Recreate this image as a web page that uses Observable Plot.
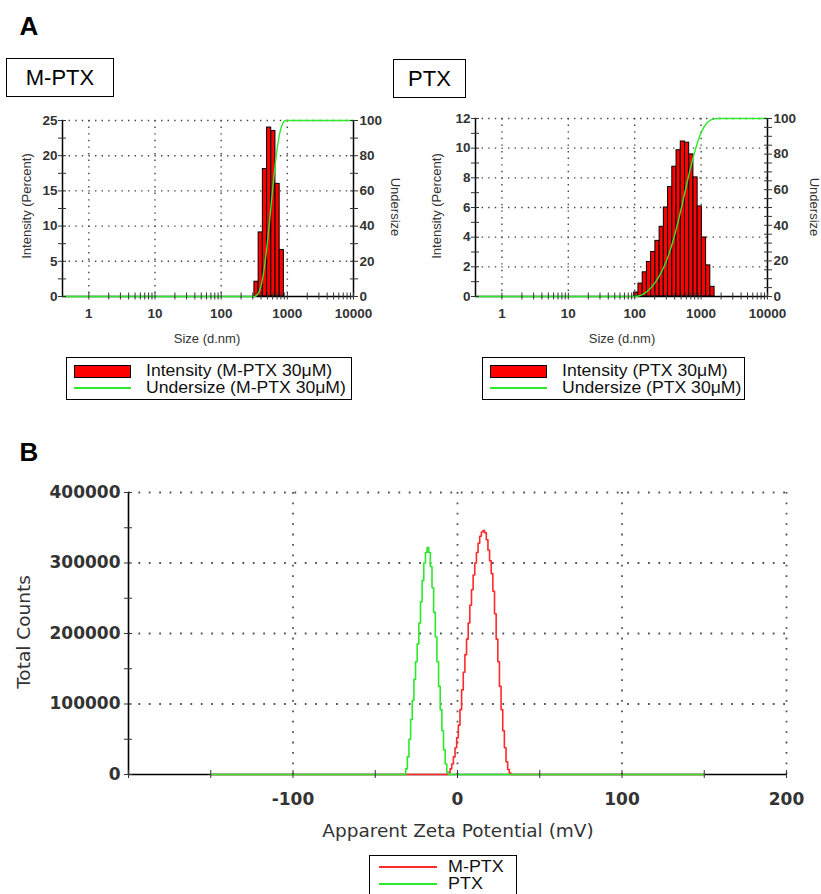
<!DOCTYPE html>
<html><head><meta charset="utf-8">
<script src="https://cdn.jsdelivr.net/npm/d3@7"></script>
<script src="https://cdn.jsdelivr.net/npm/@observablehq/plot@0.6"></script>
<style>
body{margin:0;background:#fff;}
#root{position:relative;width:821px;height:894px;overflow:hidden;font-family:"Liberation Sans",Arial,sans-serif;color:#333;background:#fff;}
.abs{position:absolute;white-space:nowrap;line-height:1;}
.box{position:absolute;border:1.5px solid #000;box-sizing:border-box;background:#fff;}
svg{overflow:visible;}
</style></head><body><div id="root"></div>
<script>
// ---------- DATA ----------
const binRatio = 1.1555; // size-bin ratio (log-spaced bins)
// A: M-PTX size distribution
const mptxSizes = [342.0, 396.1, 458.7, 531.2, 615.1, 712.4, 825.0];
const mptxIntensity = [2.1, 9.1, 18.1, 24.0, 23.5, 16.0, 6.6];
const mptxUnderSize = [0.4, 318, 368, 427, 495, 573, 664, 769, 891, 950, 10000];
const mptxUnderPct = [0, 0, 2.1, 11.2, 29.3, 53.3, 76.8, 92.8, 99.4, 100, 100];
// A: PTX size distribution
const ptxSizes = [105.7, 122.4, 141.8, 164.2, 190.1, 220.2, 255.0, 295.3, 342.0, 396.1, 458.7, 531.2, 615.1, 712.4, 825.0, 955.4, 1106, 1281, 1484];
const ptxIntensity = [0.27, 0.87, 1.63, 2.33, 3.0, 3.75, 4.7, 6.0, 7.38, 8.75, 9.86, 10.45, 10.37, 9.58, 8.03, 6.07, 3.98, 2.1, 0.65];
const ptxUnderSize = [0.4, 98.1, 113.9, 131.9, 152.8, 177.0, 205.0, 237.4, 275.0, 318.5, 368.9, 427.3, 494.9, 573.2, 663.9, 769.0, 890.7, 1031.6, 1194.8, 1383.9, 1602.9, 1750, 10000];
const ptxUnderPct = [0, 0, 0.27, 1.14, 2.77, 5.1, 8.1, 11.85, 16.55, 22.55, 29.93, 38.68, 48.54, 58.99, 69.36, 78.94, 86.97, 93.04, 97.02, 99.12, 99.77, 100, 100];
const sizeTickLabels = [1, 10, 100, 1000, 10000];
// B: zeta potential distributions
const mptxZetaMV = [-150, -6, -5, -4, -3, -2, -1, 0, 1, 2, 3, 4, 5, 6, 7, 8, 9, 10, 11, 12, 13, 14, 15, 16, 17, 18, 19, 20, 21, 22, 23, 24, 25, 26, 27, 28, 29, 30, 31, 32, 33, 150];
const mptxZetaCounts = [0, 0, 3000, 8000, 15000, 25000, 38000, 52000, 70000, 92000, 120000, 145000, 170000, 192000, 215000, 240000, 262000, 283000, 300000, 315000, 328000, 338000, 344000, 346000, 343000, 333000, 318000, 303000, 285000, 260000, 228000, 192000, 160000, 125000, 92000, 62000, 38000, 18000, 7000, 2000, 0, 0];
const ptxZetaMV = [-150, -32, -31, -30, -29, -28, -27, -26, -25, -24, -23, -22, -21, -20, -19, -18, -17, -16, -15, -14, -13, -12, -11, -10, -9, -8, -7, -6, -5, 150];
const ptxZetaCounts = [0, 0, 8000, 25000, 50000, 78000, 105000, 135000, 160000, 185000, 215000, 245000, 275000, 300000, 315000, 322000, 315000, 295000, 265000, 230000, 195000, 160000, 125000, 92000, 62000, 35000, 15000, 3000, 0, 0];
const zetaTickLabels = [-100, 0, 100, 200];
const countTickLabels = [0, 100000, 200000, 300000, 400000];

// ---------- COLOURS / STYLE ----------
const RED = "#ff0000", GREEN = "#2ee82e", LINE_RED = "#ff2a2a";
const root = document.getElementById("root");

function place(el, left, top) {
  el.style.position = "absolute";
  el.style.left = left + "px";
  el.style.top = top + "px";
  root.appendChild(el);
  return el;
}
function text(str, x, y, size, opts = {}) {
  const d = document.createElement("div");
  d.className = "abs";
  d.textContent = str;
  d.style.left = x + "px";
  d.style.top = y + "px";
  d.style.fontSize = size + "px";
  const sx = opts.sx ? ` scaleX(${opts.sx})` : "";
  if (opts.anchor === "start") {
    d.style.transformOrigin = "0 50%";
    d.style.transform = `translate(0,-50%)${sx}`;
  } else {
    d.style.transform = `translate(-50%,-50%)${opts.rotate ? ` rotate(${opts.rotate}deg)` : ""}${sx}`;
  }
  if (opts.weight) d.style.fontWeight = opts.weight;
  if (opts.color) d.style.color = opts.color;
  if (opts.family) d.style.fontFamily = opts.family;
  root.appendChild(d);
  return d;
}
function box(left, top, w, h, bw = 1.5) {
  const d = document.createElement("div");
  d.className = "box";
  Object.assign(d.style, {left: left + "px", top: top + "px", width: w + "px", height: h + "px", borderWidth: bw + "px"});
  root.appendChild(d);
  return d;
}
function swatchLine(left, top, w, h, color) {
  const d = document.createElement("div");
  Object.assign(d.style, {position: "absolute", left: left + "px", top: top + "px", width: w + "px", height: h + "px", background: color});
  root.appendChild(d);
  return d;
}

const dotGrid = {stroke: "#444", strokeOpacity: 1, strokeWidth: 1.4, strokeDasharray: "1.4,5.2"};

function sizeChart({sizes, intensity, underSize, underPct, yMax, yStep, yLabelStep, rStep, width, height, margins}) {
  const bars = sizes.map((s, i) => ({x1: s / Math.sqrt(binRatio), x2: s * Math.sqrt(binRatio), v: intensity[i]}));
  const under = underSize.map((s, i) => ({s, u: underPct[i] * yMax / 100}));
  const xTicks = [];
  for (let k = 0; k < 4; k++) for (let m = 1; m <= 9; m++) xTicks.push(m * Math.pow(10, k));
  xTicks.push(10000);
  const yTicks = d3.range(0, yMax + 1e-9, yStep);
  const rTicks = d3.range(0, 100 + 1e-9, rStep).map(p => p * yMax / 100);
  return Plot.plot({
    width, height, ...margins,
    style: {fontFamily: "'Liberation Sans', Arial, sans-serif", fontSize: "13.5px", fontWeight: "bold", color: "#333", background: "transparent", overflow: "visible"},
    x: {type: "log", domain: [0.4, 10000]},
    y: {domain: [0, yMax]},
    marks: [
      Plot.gridY(d3.range(yLabelStep, yMax + 1e-9, yLabelStep), dotGrid),
      Plot.gridX([1, 10, 100, 1000], dotGrid),
      Plot.rectY(bars, {x1: "x1", x2: "x2", y: "v", fill: RED, stroke: "#000", strokeWidth: 1}),
      Plot.ruleY([0], {stroke: "#000", strokeWidth: 1.5}),
      Plot.ruleX([0.4], {stroke: "#000", strokeWidth: 1.5}),
      Plot.ruleX([10000], {stroke: "#000", strokeWidth: 1.5}),
      Plot.line(under, {x: "s", y: "u", stroke: GREEN, strokeWidth: 1.4, curve: "monotone-x"}),
      Plot.axisY({ticks: yTicks, anchor: "left", tickSize: 8, dx: 4, tickPadding: 1, label: null,
        tickFormat: d => (Math.abs(d / yLabelStep - Math.round(d / yLabelStep)) < 1e-6 ? String(Math.round(d)) : "")}),
      Plot.axisY({ticks: rTicks, anchor: "right", tickSize: 8, dx: -4, tickPadding: 2, label: null,
        tickFormat: d => { const p = Math.round(d / yMax * 100); return p % 20 === 0 ? String(p) : ""; }}),
      Plot.axisX({ticks: xTicks, anchor: "bottom", tickSize: 7, dy: -3.5, tickPadding: 8, label: null,
        tickFormat: d => (sizeTickLabels.includes(d) ? String(d) : "")})
    ]
  });
}

// ---------- PANEL A ----------
text("A", 29, 26, 26, {weight: "bold", color: "#000"});
box(6, 58, 108, 39);
text("M-PTX", 60, 78, 22, {color: "#000"});
box(393, 59, 73, 39);
text("PTX", 429.5, 78.5, 22, {color: "#000"});

const a1 = sizeChart({sizes: mptxSizes, intensity: mptxIntensity, underSize: mptxUnderSize, underPct: mptxUnderPct,
  yMax: 25, yStep: 2.5, yLabelStep: 5, rStep: 10, width: 410, height: 240,
  margins: {marginLeft: 62, marginRight: 57, marginTop: 20, marginBottom: 44}});
place(a1, 0, 100);
const a2 = sizeChart({sizes: ptxSizes, intensity: ptxIntensity, underSize: ptxUnderSize, underPct: ptxUnderPct,
  yMax: 12, yStep: 1, yLabelStep: 2, rStep: 5, width: 411, height: 240,
  margins: {marginLeft: 65, marginRight: 54, marginTop: 18, marginBottom: 44}});
place(a2, 410, 100);

text("Intensity (Percent)", 26, 206, 13, {rotate: -90});
text("Undersize", 395, 207, 13, {rotate: 90});
text("Size (d.nm)", 207, 338, 13);
text("Intensity (Percent)", 436, 206, 13, {rotate: -90});
text("Undersize", 814, 207, 13, {rotate: 90});
text("Size (d.nm)", 622, 338, 13);

// legends A
function sizeLegend(left, width, name) {
  box(left, 357, width, 43, 1.5);
  const sw = document.createElement("div");
  Object.assign(sw.style, {position: "absolute", left: (left + 8) + "px", top: "365px", width: "57px", height: "13px", background: RED, border: "1px solid #000", boxSizing: "border-box"});
  root.appendChild(sw);
  swatchLine(left + 8, 387, 57, 2, GREEN);
  text(`Intensity  (${name} 30μM)`, left + 80, 371, 16, {anchor: "start", color: "#111", sx: 1.1});
  text(`Undersize  (${name} 30μM)`, left + 80, 388, 16, {anchor: "start", color: "#111", sx: 1.1});
}
sizeLegend(66, 286, "M-PTX");
sizeLegend(482, 263, "PTX");

// ---------- PANEL B ----------
text("B", 29, 452, 26, {weight: "bold", color: "#000"});
const zDot = {stroke: "#555", strokeOpacity: 1, strokeWidth: 1.8, strokeDasharray: "1.8,8.6"};
const mptxZeta = mptxZetaMV.map((v, i) => ({mv: v, c: mptxZetaCounts[i]}));
const ptxZeta = ptxZetaMV.map((v, i) => ({mv: v, c: ptxZetaCounts[i]}));
const b = Plot.plot({
  width: 821, height: 350, marginLeft: 128, marginRight: 35, marginTop: 22, marginBottom: 46,
  style: {fontFamily: "'DejaVu Sans', sans-serif", fontSize: "17px", fontWeight: "bold", color: "#333", background: "transparent", overflow: "visible"},
  x: {domain: [-200, 200]},
  y: {domain: [0, 400000]},
  marks: [
    Plot.gridY([100000, 200000, 300000, 400000], zDot),
    Plot.gridX([-100, 0, 100, 200], zDot),
    Plot.ruleY([0], {stroke: "#000", strokeWidth: 1.6}),
    Plot.ruleX([-200], {stroke: "#000", strokeWidth: 1.6}),
    Plot.line(mptxZeta, {x: "mv", y: "c", stroke: LINE_RED, strokeWidth: 1.6, curve: "step"}),
    Plot.line(ptxZeta, {x: "mv", y: "c", stroke: GREEN, strokeWidth: 1.6, curve: "step"}),
    Plot.axisY({ticks: d3.range(0, 400001, 50000), anchor: "left", tickSize: 8, dx: 4, tickPadding: 4, label: null,
      tickFormat: d => (countTickLabels.includes(d) ? String(d) : "")}),
    Plot.axisX({ticks: d3.range(-200, 201, 50), anchor: "bottom", tickSize: 8, dy: -4, tickPadding: 14, label: null,
      tickFormat: d => (zetaTickLabels.includes(d) ? String(d) : "")})
  ]
});
place(b, 0, 470);
text("Total Counts", 24, 632, 18.5, {rotate: -90, family: "'DejaVu Sans', sans-serif"});
text("Apparent Zeta Potential (mV)", 458, 831, 18.5, {family: "'DejaVu Sans', sans-serif"});

// legend B
box(369, 855, 148, 50, 1.5);
swatchLine(379, 866, 58, 1.5, LINE_RED);
swatchLine(379, 883, 58, 1.5, GREEN);
text("M-PTX", 448, 867, 16, {anchor: "start", color: "#111", sx: 1.12});
text("PTX", 448, 884, 16, {anchor: "start", color: "#111", sx: 1.12});
</script></body></html>
